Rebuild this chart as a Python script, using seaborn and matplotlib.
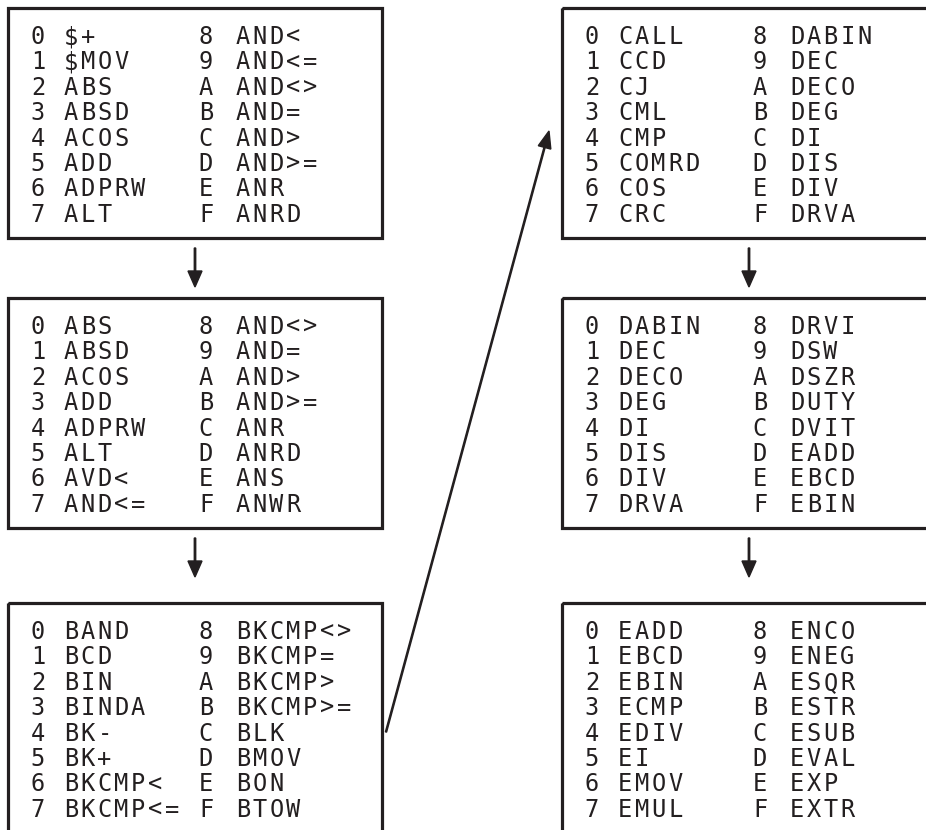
"""Instruction table pages: six boxes of 16 mnemonics each, linked by arrows."""
import matplotlib
matplotlib.use('Agg')
import matplotlib.pyplot as plt
from matplotlib.patches import Rectangle
import seaborn as sns

hex_digits = list('0123456789ABCDEF')

page_a1 = ['$+', '$MOV', 'ABS', 'ABSD', 'ACOS', 'ADD', 'ADPRW', 'ALT',
           'AND<', 'AND<=', 'AND<>', 'AND=', 'AND>', 'AND>=', 'ANR', 'ANRD']
page_a2 = ['ABS', 'ABSD', 'ACOS', 'ADD', 'ADPRW', 'ALT', 'AVD<', 'AND<=',
           'AND<>', 'AND=', 'AND>', 'AND>=', 'ANR', 'ANRD', 'ANS', 'ANWR']
page_a3 = ['BAND', 'BCD', 'BIN', 'BINDA', 'BK-', 'BK+', 'BKCMP<', 'BKCMP<=',
           'BKCMP<>', 'BKCMP=', 'BKCMP>', 'BKCMP>=', 'BLK', 'BMOV', 'BON', 'BTOW']
page_b1 = ['CALL', 'CCD', 'CJ', 'CML', 'CMP', 'COMRD', 'COS', 'CRC',
           'DABIN', 'DEC', 'DECO', 'DEG', 'DI', 'DIS', 'DIV', 'DRVA']
page_b2 = ['DABIN', 'DEC', 'DECO', 'DEG', 'DI', 'DIS', 'DIV', 'DRVA',
           'DRVI', 'DSW', 'DSZR', 'DUTY', 'DVIT', 'EADD', 'EBCD', 'EBIN']
page_b3 = ['EADD', 'EBCD', 'EBIN', 'ECMP', 'EDIV', 'EI', 'EMOV', 'EMUL',
           'ENCO', 'ENEG', 'ESQR', 'ESTR', 'ESUB', 'EVAL', 'EXP', 'EXTR']

sns.set_theme(style='white')
plt.rcParams['font.family'] = ['DejaVu Sans Mono']

INK = '#231f20'
BOX_W, BOX_H = 374, 230
COL_X = [8, 562]
ROW_Y = [8, 298, 603]
PITCH = 16.8
ROW_PITCH = 25.4

fig = plt.figure(figsize=(9.26, 8.30), dpi=100)
ax = fig.add_axes([0, 0, 1, 1])
ax.set_xlim(0, 926)
ax.set_ylim(830, 0)
ax.axis('off')


def spaced(ax, x, y, s):
    # letter-spaced text, one glyph per cell
    for i, ch in enumerate(s):
        ax.text(x + 6 + i * PITCH, y, ch, ha='center', va='center',
                fontsize=17, color=INK)


def draw_page(ax, x0, y0, names):
    ax.add_patch(Rectangle((x0, y0), BOX_W, BOX_H, fill=False,
                           edgecolor=INK, lw=2.3))
    for k, (d, name) in enumerate(zip(hex_digits, names)):
        col, row = divmod(k, 8)
        y = y0 + 29 + row * ROW_PITCH
        dx = 24 if col == 0 else 192
        nx = 57 if col == 0 else 229
        spaced(ax, x0 + dx, y, d)
        spaced(ax, x0 + nx, y, name)


pages = [[page_a1, page_a2, page_a3], [page_b1, page_b2, page_b3]]
for ci, col_pages in enumerate(pages):
    for ri, names in enumerate(col_pages):
        draw_page(ax, COL_X[ci], ROW_Y[ri], names)

# down arrows between pages
for x0 in COL_X:
    cx = x0 + BOX_W / 2
    for (top, nxt) in [(ROW_Y[0] + BOX_H, ROW_Y[1]), (ROW_Y[1] + BOX_H, ROW_Y[2])]:
        y_start = top + 10
        y_end = nxt - 11 if nxt == ROW_Y[1] else nxt - 26
        ax.arrow(cx, y_start, 0, y_end - y_start, width=1.4, head_width=14,
                 head_length=16, length_includes_head=True, color=INK)

# diagonal link from page a3 to page b1
ax.arrow(386, 732, 549 - 386, 131 - 732, width=1.2, head_width=13,
         head_length=17, length_includes_head=True, color=INK)

fig.savefig('out.png', dpi=100)
